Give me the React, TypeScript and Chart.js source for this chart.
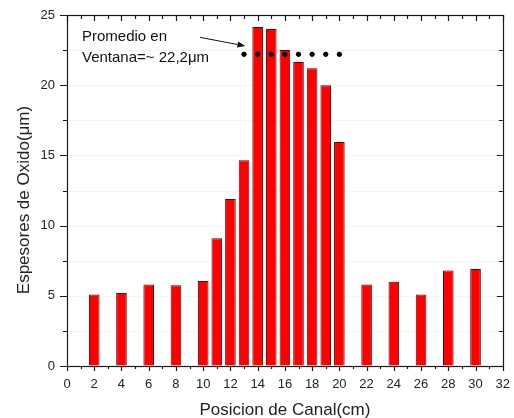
import { useEffect, useRef } from 'react';
import { Chart, registerables } from 'chart.js';

Chart.register(...registerables);

// Channel positions (cm) and measured oxide thickness (µm)
const positions = [2, 4, 6, 8, 10, 11, 12, 13, 14, 15, 16, 17, 18, 19, 20, 22, 24, 26, 28, 30];
const thickness = [5.1, 5.2, 5.8, 5.75, 6.05, 9.1, 11.9, 14.65, 24.15, 24.0, 22.5, 21.65, 21.2, 20.0, 15.95, 5.8, 6.0, 5.1, 6.8, 6.9];

// Window average markers
const averagePositions = [13, 14, 15, 16, 17, 18, 19, 20];
const averageValue = 22.2;

const xTitle = 'Posicion de Canal(cm)';
const yTitle = 'Espesores de Oxido(μm)';
const noteLines = ['Promedio en', 'Ventana=~ 22,2μm'];

const X_MIN = 0;
const X_MAX = 32;
const Y_MIN = 0;
const Y_MAX = 25;

const FONT = "'Liberation Sans', Arial, sans-serif";

// Note text anchor and arrow, in data units
const noteAnchor = { x: 1.1, y: [23.47, 21.92] };
const arrowFrom = { x: 9.76, y: 23.41 };
const arrowTo = { x: 13.1, y: 22.79 };

const framePlugin = {
  id: 'originFrame',
  beforeDatasetsDraw(chart: any) {
    const { ctx, chartArea: a, scales } = chart;
    const y = scales.y;
    ctx.save();
    ctx.strokeStyle = '#f5f5f5';
    ctx.lineWidth = 1;
    for (let v = 2.5; v < Y_MAX; v += 2.5) {
      const py = Math.round(y.getPixelForValue(v)) + 0.5;
      ctx.beginPath();
      ctx.moveTo(a.left, py);
      ctx.lineTo(a.right, py);
      ctx.stroke();
    }
    ctx.restore();
  },
  afterDraw(chart: any) {
    const { ctx, chartArea: a, scales } = chart;
    const x = scales.x;
    const y = scales.y;
    ctx.save();
    ctx.strokeStyle = '#1a1a1a';
    ctx.lineWidth = 1.2;

    // frame
    ctx.strokeRect(Math.round(a.left) + 0.5, Math.round(a.top) + 0.5, Math.round(a.right - a.left), Math.round(a.bottom - a.top));

    ctx.beginPath();
    // bottom (outward) and top (inward) ticks
    for (let v = X_MIN; v <= X_MAX; v += 1) {
      const px = Math.round(x.getPixelForValue(v)) + 0.5;
      const major = v % 2 === 0;
      ctx.moveTo(px, a.bottom);
      ctx.lineTo(px, a.bottom + (major ? 5 : 3));
      ctx.moveTo(px, a.top);
      ctx.lineTo(px, a.top + (major ? 6 : 4));
    }
    // left (outward) and right (inward) ticks
    for (let v = Y_MIN; v <= Y_MAX; v += 2.5) {
      const py = Math.round(y.getPixelForValue(v)) + 0.5;
      const major = v % 5 === 0;
      ctx.moveTo(a.left, py);
      ctx.lineTo(a.left - (major ? 7 : 4), py);
      ctx.moveTo(a.right, py);
      ctx.lineTo(a.right - (major ? 6 : 4), py);
    }
    ctx.stroke();

    // axis titles
    ctx.fillStyle = '#222';
    ctx.font = `17px ${FONT}`;
    ctx.textAlign = 'center';
    ctx.textBaseline = 'middle';
    ctx.fillText(xTitle, (a.left + a.right) / 2, 410);
    ctx.save();
    ctx.translate(24, 200);
    ctx.rotate(-Math.PI / 2);
    ctx.fillText(yTitle, 0, 0);
    ctx.restore();

    // note text
    ctx.font = `15px ${FONT}`;
    ctx.textAlign = 'left';
    ctx.fillStyle = '#111';
    noteLines.forEach((line, i) => {
      ctx.fillText(line, x.getPixelForValue(noteAnchor.x), y.getPixelForValue(noteAnchor.y[i]));
    });

    // arrow
    const x0 = x.getPixelForValue(arrowFrom.x);
    const y0 = y.getPixelForValue(arrowFrom.y);
    const x1 = x.getPixelForValue(arrowTo.x);
    const y1 = y.getPixelForValue(arrowTo.y);
    const ang = Math.atan2(y1 - y0, x1 - x0);
    const headLen = 8;
    const headW = 3;
    ctx.strokeStyle = '#111';
    ctx.lineWidth = 1;
    ctx.beginPath();
    ctx.moveTo(x0, y0);
    ctx.lineTo(x1 - headLen * Math.cos(ang), y1 - headLen * Math.sin(ang));
    ctx.stroke();
    ctx.fillStyle = '#111';
    ctx.beginPath();
    ctx.moveTo(x1, y1);
    ctx.lineTo(x1 - headLen * Math.cos(ang) + headW * Math.sin(ang), y1 - headLen * Math.sin(ang) - headW * Math.cos(ang));
    ctx.lineTo(x1 - headLen * Math.cos(ang) - headW * Math.sin(ang), y1 - headLen * Math.sin(ang) + headW * Math.cos(ang));
    ctx.closePath();
    ctx.fill();

    ctx.restore();
  },
};

export default function App() {
  const canvasRef = useRef<HTMLCanvasElement | null>(null);

  useEffect(() => {
    if (!canvasRef.current) return;
    const chart = new Chart(canvasRef.current, {
      type: 'bar',
      data: {
        datasets: [
          {
            type: 'bar',
            data: positions.map((p, i) => ({ x: p, y: thickness[i] })),
            backgroundColor: '#ff0000',
            borderColor: '#5a0808',
            borderWidth: 1,
            barPercentage: 0.78,
            categoryPercentage: 1,
            order: 2,
          },
          {
            type: 'scatter',
            data: averagePositions.map((p) => ({ x: p, y: averageValue })),
            backgroundColor: '#000',
            borderColor: '#000',
            pointRadius: 2.2,
            pointHoverRadius: 2.2,
            order: 1,
          },
        ] as any,
      },
      options: {
        animation: false,
        responsive: true,
        maintainAspectRatio: false,
        layout: { padding: { top: 15, right: 11, left: 0, bottom: 0 } },
        plugins: { legend: { display: false }, tooltip: { enabled: false } },
        scales: {
          x: {
            type: 'linear',
            min: X_MIN,
            max: X_MAX,
            offset: false,
            border: { display: false },
            grid: { display: true, drawOnChartArea: false, drawTicks: true, tickLength: 7, color: 'rgba(0,0,0,0)' },
            ticks: {
              stepSize: 2,
              autoSkip: false,
              maxRotation: 0,
              padding: 4,
              color: '#222',
              font: { family: FONT, size: 13 },
            },
            afterFit: (s: any) => {
              s.height = 52;
            },
          },
          y: {
            min: Y_MIN,
            max: Y_MAX,
            border: { display: false },
            grid: { display: true, drawOnChartArea: false, drawTicks: true, tickLength: 7, color: 'rgba(0,0,0,0)' },
            ticks: {
              stepSize: 5,
              padding: 5,
              color: '#222',
              font: { family: FONT, size: 13 },
            },
            afterFit: (s: any) => {
              s.width = 67;
            },
          },
        },
      } as any,
      plugins: [framePlugin],
    });
    return () => chart.destroy();
  }, []);

  return (
    <div style={{ position: 'absolute', left: 0, top: 0, width: 514, height: 418, background: '#fff' }}>
      <canvas ref={canvasRef} />
    </div>
  );
}
